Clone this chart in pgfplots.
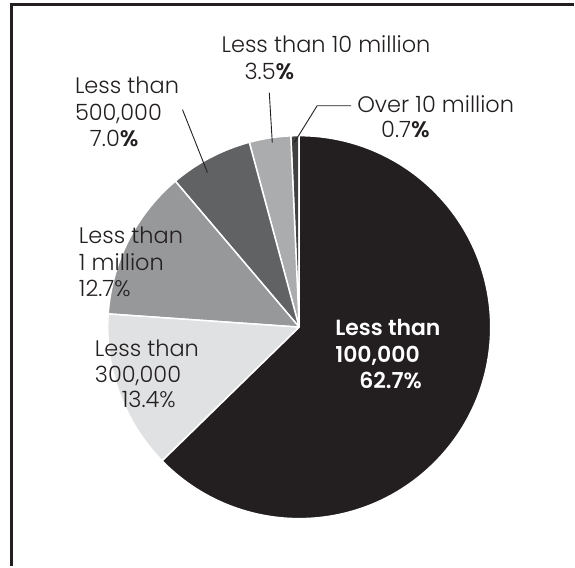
\documentclass[border=0pt]{standalone}
\usepackage{fontspec}
\setmainfont{Poppins}[UprightFont=* Light, BoldFont=* SemiBold]
\usepackage{pgfplots}
\pgfplotsset{compat=1.18}
\usepackage{pgfplotstable}
\definecolor{cdark}{HTML}{231F20}
\definecolor{cA}{HTML}{404041}
\definecolor{cB}{HTML}{ABACAE}
\definecolor{cC}{HTML}{616264}
\definecolor{cD}{HTML}{97989A}
\definecolor{cE}{HTML}{E0E1E2}
\definecolor{cF}{HTML}{231F20}
\pgfplotstableread{
label value
Over10m 0.7
Less10m 3.5
Less500k 7.0
Less1m 12.7
Less300k 13.4
Less100k 62.7
}\piedata
\begin{document}
\begin{tikzpicture}[lbl/.style={anchor=base west, font=\fontsize{22.5}{26}\selectfont, inner sep=0pt, text=cdark},
  wlbl/.style={anchor=base west, font=\fontsize{22}{26}\selectfont\bfseries, inner sep=0pt, text=white}]
\pgfplotstablegetelem{0}{value}\of\piedata\pgfmathsetmacro\vA{\pgfplotsretval}
\pgfplotstablegetelem{1}{value}\of\piedata\pgfmathsetmacro\vB{\pgfplotsretval}
\pgfplotstablegetelem{2}{value}\of\piedata\pgfmathsetmacro\vC{\pgfplotsretval}
\pgfplotstablegetelem{3}{value}\of\piedata\pgfmathsetmacro\vD{\pgfplotsretval}
\pgfplotstablegetelem{4}{value}\of\piedata\pgfmathsetmacro\vE{\pgfplotsretval}
\pgfplotstablegetelem{5}{value}\of\piedata\pgfmathsetmacro\vF{\pgfplotsretval}
\pgfmathsetmacro\aA{90}
\pgfmathsetmacro\aB{\aA+3.6*\vA}
\pgfmathsetmacro\aC{\aB+3.6*\vB}
\pgfmathsetmacro\aD{\aC+3.6*\vC}
\pgfmathsetmacro\aE{\aD+3.6*\vD}
\pgfmathsetmacro\aF{\aE+3.6*\vE}
\pgfmathsetmacro\aG{\aF+3.6*\vF}
\begin{axis}[x=1pt,y=1pt,xmin=0,xmax=575,ymin=0,ymax=567,hide axis,clip=false]
\path (axis cs:0,0) rectangle (axis cs:575,567);
\fill[cA,draw=white,line width=1.5pt] (axis cs:300,239) -- ++(\aA:192pt) arc[start angle=\aA,end angle=\aB,radius=192pt] -- cycle;
\fill[cB,draw=white,line width=1.5pt] (axis cs:300,239) -- ++(\aB:192pt) arc[start angle=\aB,end angle=\aC,radius=192pt] -- cycle;
\fill[cC,draw=white,line width=1.5pt] (axis cs:300,239) -- ++(\aC:192pt) arc[start angle=\aC,end angle=\aD,radius=192pt] -- cycle;
\fill[cD,draw=white,line width=1.5pt] (axis cs:300,239) -- ++(\aD:192pt) arc[start angle=\aD,end angle=\aE,radius=192pt] -- cycle;
\fill[cE,draw=white,line width=1.5pt] (axis cs:300,239) -- ++(\aE:192pt) arc[start angle=\aE,end angle=\aF,radius=192pt] -- cycle;
\fill[cF,draw=white,line width=1.5pt] (axis cs:300,239) -- ++(\aF:192pt) arc[start angle=\aF,end angle=\aG,radius=192pt] -- cycle;
% frame
\draw[cdark,line width=3pt] (axis cs:11.5,0) -- (axis cs:11.5,562.5) -- (axis cs:575,562.5);
% leaders
\draw[cdark,line width=0.9pt] (axis cs:270,474) -- (axis cs:273,424);
\draw[cdark,line width=0.9pt] (axis cs:352,461) -- (axis cs:318,461) -- (axis cs:295,424);
\draw[cdark,line width=0.9pt] (axis cs:183,457) -- (axis cs:208,394);
% labels
\node[lbl] at (axis cs:222,514) {Less than 10 million};
\node[lbl] at (axis cs:245,487) {3.5\textbf{\%}};
\node[lbl] at (axis cs:358,454) {Over 10 million};
\node[lbl] at (axis cs:382,429) {0.7\textbf{\%}};
\node[lbl] at (axis cs:75,473) {Less than};
\node[lbl] at (axis cs:75,446) {500,000};
\node[lbl] at (axis cs:90,420) {7.0\textbf{\%}};
\node[lbl] at (axis cs:79,323) {Less than};
\node[lbl] at (axis cs:79,296) {1 million};
\node[lbl] at (axis cs:79,270) {12.7\%};
\node[lbl] at (axis cs:95,210) {Less than};
\node[lbl] at (axis cs:95,184) {300,000};
\node[lbl] at (axis cs:122,158) {13.4\%};
\node[wlbl] at (axis cs:336,231) {Less than};
\node[wlbl] at (axis cs:336,204) {100,000};
\node[wlbl] at (axis cs:360,177) {62.7\%};
\end{axis}
\end{tikzpicture}
\end{document}
